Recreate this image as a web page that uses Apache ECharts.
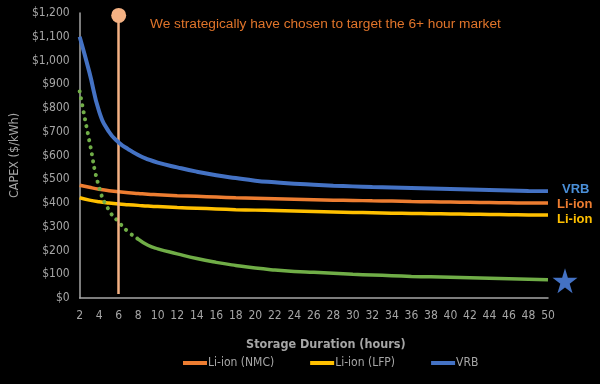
<!DOCTYPE html>
<html><head><meta charset="utf-8">
<script src="https://cdn.jsdelivr.net/npm/echarts@6/dist/echarts.min.js"></script>
<style>html,body{margin:0;padding:0;background:#000;}#c{width:600px;height:384px;}</style>
</head><body><div id="c"></div>
<script>
const hours = [2,3,4,5,6,7,8,9,10,12,14,16,18,20,22,24,26,28,30,32,34,36,38,40,42,44,46,48,50];
const nmc   = [475,466,458,452,447,443,440,437,435,431,428,425,422,420,418,416,414,412,411,409,408,406,405,404,403,402,401,400,400];
const lfp   = [422,412,405,400,396,393,390,387,385,381,378,375,372,370,368,366,364,362,360,359,357,356,355,354,353,352,351,350,350];
const vrb   = [1100,950,785,700,655,626,602,584,570,550,532,517,505,494,487,481,477,473,470,467,465,463,461,459,457,455,453,451,450];
const greenDotHours = [2,3,4,5,6,7,8];
const greenDot      = [870,660,465,370,320,278,248];
const greenHours    = [8,9,10,12,14,16,18,20,22,24,26,28,30,32,34,36,38,40,42,44,46,48,50];
const green         = [248,222,207,186,166,150,137,126,118,112,108,104,100,97,94,91,89,87,85,83,81,79,77];
const xTicks = {min:2, max:50, step:2};
const yTicks = {min:0, max:1200, step:100};
const markerHour = 6;
const titleText = 'We strategically have chosen to target the 6+ hour market';
const names = ['Li-ion (NMC)','Li-ion (LFP)','VRB'];

const pair = (xs, ys) => xs.map((x,i)=>[x, ys[i]]);
const gray = '#A6A6A6';
const font = "'DejaVu Sans Condensed','Liberation Sans Narrow','Liberation Sans',Arial,sans-serif";
const starPath = 'path://M50,0 L61,35 L98,35 L68,57 L79,91 L50,70 L21,91 L32,57 L2,35 L39,35 Z';

const chart = echarts.init(document.getElementById('c'));
chart.setOption({
  backgroundColor: '#000',
  animation: false,
  title: { text: titleText, left: 145, top: 12,
    textStyle: { color: '#E0742A', fontSize: 13.7, fontWeight: 'normal', fontFamily: "'Liberation Sans',Arial,sans-serif" } },
  legend: {
    data: names, bottom: 10, left: 178, itemGap: 36, itemWidth: 24, itemHeight: 4, icon: 'rect',
    textStyle: { color: gray, fontSize: 12, fontFamily: font, padding: [0,0,0,-4] }
  },
  grid: { left: 79, right: 52, top: 13, bottom: 86 },
  xAxis: {
    type: 'value', min: xTicks.min, max: xTicks.max, interval: xTicks.step,
    name: 'Storage Duration (hours)', nameLocation: 'middle', nameGap: 40,
    nameTextStyle: { color: gray, fontSize: 12.5, fontWeight: 'bold', fontFamily: font, padding: [0,0,0,24] },
    axisLine: { lineStyle: { color: gray, width: 1.5 } },
    axisTick: { show: false }, splitLine: { show: false },
    axisLabel: { color: gray, fontSize: 12, fontFamily: font, margin: 12 }
  },
  yAxis: {
    type: 'value', min: yTicks.min, max: yTicks.max, interval: yTicks.step,
    name: 'CAPEX ($/kWh)', nameLocation: 'middle', nameGap: 50, nameRotate: 90,
    nameTextStyle: { color: gray, fontSize: 12.5, fontFamily: font },
    axisLine: { show: true, lineStyle: { color: gray, width: 1.5 } },
    axisTick: { show: false }, splitLine: { show: false },
    axisLabel: { color: gray, fontSize: 12, fontFamily: font, margin: 10,
      formatter: v => '$' + String(v).replace(/\B(?=(\d{3})+(?!\d))/g, ',') }
  },
  series: [
    { name: names[1], type: 'line', data: pair(hours, lfp), smooth: true, showSymbol: false, z: 2,
      itemStyle: { color: '#FFC000' }, lineStyle: { color: '#FFC000', width: 3.5 },
      endLabel: { show: true, formatter: 'Li-ion', color: '#FFC000', fontSize: 13, fontWeight: 'bold',
        fontFamily: "'Liberation Sans',Arial,sans-serif", distance: 9, offset: [0, 5] } },
    { name: names[0], type: 'line', data: pair(hours, nmc), smooth: true, showSymbol: false, z: 3,
      itemStyle: { color: '#ED7D31' }, lineStyle: { color: '#ED7D31', width: 3.5 },
      endLabel: { show: true, formatter: 'Li-ion', color: '#ED7D31', fontSize: 13, fontWeight: 'bold',
        fontFamily: "'Liberation Sans',Arial,sans-serif", distance: 9, offset: [0, 1] } },
    { name: 'greenDot', type: 'line', data: pair(greenDotHours, greenDot), smooth: true, showSymbol: false, z: 4,
      lineStyle: { color: '#70AD47', width: 4, type: [0.1, 7], cap: 'round' } },
    { name: 'green', type: 'line', data: pair(greenHours, green), smooth: true, showSymbol: false, z: 4,
      lineStyle: { color: '#70AD47', width: 3.5 },
      markPoint: { symbol: starPath, symbolSize: 25, symbolOffset: [17, 1], silent: true,
        itemStyle: { color: '#4472C4' }, label: { show: false },
        data: [{ coord: [greenHours[greenHours.length-1], green[green.length-1]] }] } },
    { name: names[2], type: 'line', data: pair(hours, vrb), smooth: true, showSymbol: false, z: 5,
      itemStyle: { color: '#4472C4' }, lineStyle: { color: '#4472C4', width: 4 },
      endLabel: { show: true, formatter: 'VRB', color: '#4A8FD8', fontSize: 13, fontWeight: 'bold',
        fontFamily: "'Liberation Sans',Arial,sans-serif", distance: 14, offset: [0, -2] },
      markLine: { silent: true, symbol: ['none', 'circle'], symbolSize: 15, label: { show: false },
        lineStyle: { color: '#F4B183', width: 2.5, type: 'solid', opacity: 1 },
        emphasis: { disabled: true },
        data: [[{ coord: [markerHour, 17] }, { coord: [markerHour, 1190] }]] } }
  ]
});
</script></body></html>
